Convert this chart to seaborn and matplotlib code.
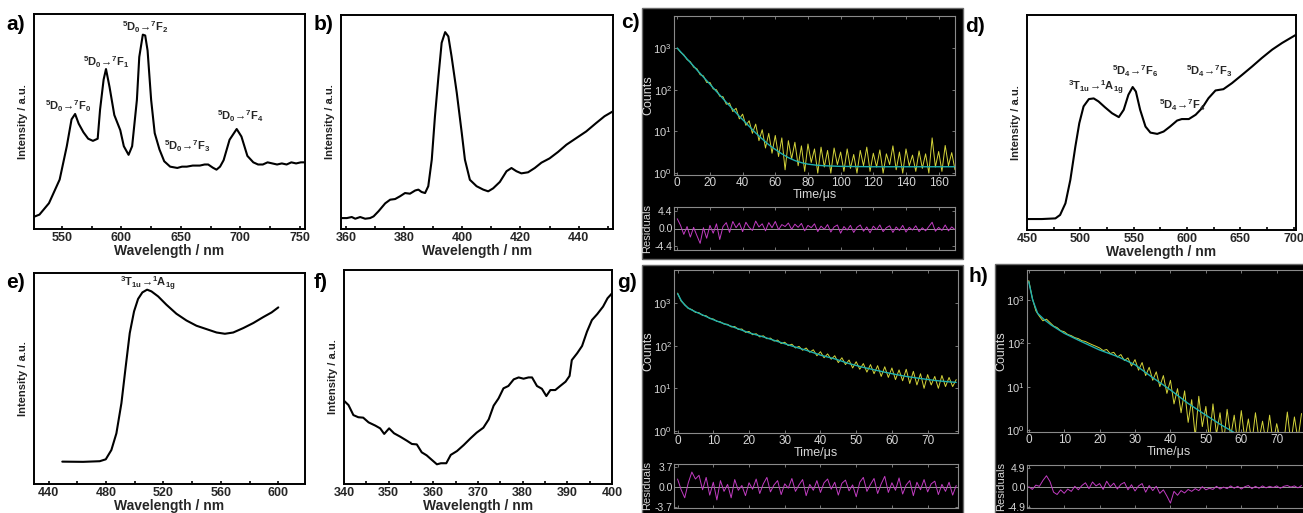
import numpy as np
import pandas as pd
import matplotlib
matplotlib.use("Agg")
import matplotlib.pyplot as plt
import seaborn as sns
from matplotlib.ticker import MultipleLocator, NullLocator
from matplotlib.patches import Rectangle

# ---------------- data ----------------
a_wl = [526, 531, 539, 548, 554, 558, 561, 564, 568, 572, 576, 580, 582, 585, 587, 590, 594, 599, 602, 606,
        609, 613, 615, 618, 620, 622, 625, 628, 632, 636, 641, 647, 651, 655, 660, 666, 670, 673, 677, 680,
        683, 686, 691, 697, 701, 706, 711, 715, 719, 723, 727, 731, 735, 739, 743, 747, 751, 754]
a_int = [0.056, 0.067, 0.12, 0.23, 0.385, 0.51, 0.535, 0.49, 0.45, 0.42, 0.41, 0.42, 0.555, 0.695, 0.744, 0.66, 0.53, 0.46, 0.385, 0.345,
         0.385, 0.60, 0.80, 0.904, 0.90, 0.83, 0.60, 0.446, 0.37, 0.315, 0.29, 0.284, 0.29, 0.29, 0.295, 0.295, 0.30, 0.30, 0.285, 0.276,
         0.29, 0.32, 0.415, 0.465, 0.43, 0.34, 0.31, 0.30, 0.30, 0.31, 0.305, 0.30, 0.305, 0.30, 0.31, 0.305, 0.31, 0.31]

b_wl = [358.3, 360.3, 362, 363.2, 364.9, 366.6, 368.3, 369.5, 371.2, 373.5, 375.2, 376.9, 378.6, 380.3, 382, 383.8, 384.9, 386, 387.2, 388.3,
        389.5, 390.6, 391.8, 392.9, 394.1, 395.2, 396.3, 398.1, 399.8, 400.9, 402.6, 404.9, 407.2, 408.9, 410.6, 412.9, 415.2, 416.9, 418.6, 420.3,
        422.6, 424.9, 427.2, 430, 432.9, 435.8, 439.2, 442.6, 446, 448.9, 451.8]
b_int = [0.051, 0.051, 0.056, 0.048, 0.056, 0.048, 0.051, 0.059, 0.083, 0.12, 0.137, 0.14, 0.153, 0.168, 0.165, 0.18, 0.184, 0.173, 0.168, 0.2,
         0.324, 0.527, 0.713, 0.87, 0.92, 0.9, 0.807, 0.636, 0.45, 0.324, 0.23, 0.2, 0.184, 0.176, 0.19, 0.22, 0.27, 0.285, 0.27, 0.26,
         0.265, 0.285, 0.31, 0.33, 0.36, 0.394, 0.425, 0.456, 0.495, 0.527, 0.55]

d_wl = [450, 464, 476.6, 481, 486, 490.6, 495.3, 499, 503, 508, 512.5, 517, 523, 529.7, 536, 540.6, 545, 549, 552, 556,
        561, 565.6, 572, 578, 584, 590.6, 595, 601.6, 608, 614, 620, 626.6, 634, 642, 651.6, 661, 670, 679.7, 689, 702]
d_int = [0.051, 0.051, 0.054, 0.07, 0.124, 0.233, 0.388, 0.497, 0.575, 0.609, 0.612, 0.598, 0.571, 0.543, 0.525, 0.559, 0.629, 0.665, 0.644, 0.559,
         0.481, 0.453, 0.447, 0.458, 0.481, 0.509, 0.516, 0.516, 0.536, 0.567, 0.613, 0.649, 0.655, 0.683, 0.722, 0.761, 0.8, 0.839, 0.87, 0.908]

e_wl = [449.5, 464, 475.6, 479.8, 483.7, 487.2, 490.7, 493.7, 496.5, 499.5, 502.3, 505.3, 508.6, 511.6, 516.3, 522, 529, 536, 543, 550,
        557, 562.8, 568.6, 575.6, 582.6, 589.5, 595.3, 600]
e_int = [0.106, 0.105, 0.108, 0.117, 0.161, 0.24, 0.383, 0.557, 0.715, 0.818, 0.877, 0.908, 0.921, 0.913, 0.889, 0.85, 0.807, 0.775, 0.75, 0.734,
         0.718, 0.712, 0.718, 0.739, 0.763, 0.791, 0.813, 0.837]

f_wl = [340, 341, 342.1, 343.2, 344.3, 345.5, 347, 348.1, 349, 350.1, 351.2, 352.6, 354.1, 355.2, 356.3, 357.4, 358.5, 359.7, 360.8, 361.7,
        362.9, 363.9, 365.3, 366.8, 368.3, 369.7, 371.2, 372.4, 373.5, 374.6, 375.7, 376.8, 378, 379.1, 380.2, 381.3, 382.1, 383.2, 384.3, 385.3,
        386.2, 387.3, 388.4, 389.6, 390.5, 391, 392.2, 393.3, 394.4, 395.5, 396.7, 398, 399, 400]
f_int = [0.389, 0.369, 0.322, 0.312, 0.31, 0.288, 0.273, 0.26, 0.234, 0.26, 0.237, 0.221, 0.202, 0.187, 0.185, 0.148, 0.134, 0.112, 0.092, 0.097,
         0.097, 0.136, 0.154, 0.182, 0.213, 0.24, 0.263, 0.302, 0.366, 0.4, 0.447, 0.458, 0.489, 0.498, 0.492, 0.498, 0.498, 0.458, 0.445, 0.411,
         0.439, 0.439, 0.458, 0.478, 0.505, 0.579, 0.611, 0.645, 0.712, 0.766, 0.794, 0.829, 0.868, 0.891]

# decay c
c_time = list(range(0, 171, 2))
c_counts = [1000, 800, 690, 530, 470, 350, 320, 230, 215, 150, 150, 105, 100, 70, 68, 45, 48, 30, 36, 20,
            26, 14, 18, 9, 15, 6, 11, 4, 9, 3, 8, 2.5, 7, 1.2, 6, 2.2, 5.5, 1.5, 4.5, 1.1,
            5, 1.8, 3.8, 1.0, 4.2, 1.4, 3.5, 1.0, 4, 1.6, 3.2, 1.1, 3.8, 1.3, 2.8, 1.0, 3.5, 1.5, 4.2, 1.1,
            3, 1.4, 3.6, 1.0, 2.9, 1.6, 4.5, 1.2, 3.2, 1.0, 3.8, 1.5, 2.7, 1.1, 3.4, 1.3, 2.9, 1.0, 7, 1.4,
            3.3, 1.1, 4.6, 1.5, 3.1, 1.2]
c_fit_t = [0, 2, 4, 6, 8, 10, 12, 14, 16, 18, 20, 22, 24, 26, 28, 30, 32, 34, 36, 38, 40, 44, 48, 52, 56, 60, 64, 68, 72, 76,
           80, 85, 90, 100, 120, 140, 170]
c_fit = [1000, 820, 670, 550, 450, 370, 300, 247, 202, 166, 136, 111, 91, 75, 61, 50, 41.5, 34, 28, 23, 19.3, 13.3, 9.2, 6.6, 4.8,
         3.7, 2.9, 2.35, 2.0, 1.78, 1.64, 1.55, 1.5, 1.45, 1.42, 1.42, 1.42]
c_res = [2.5, 0.8, -1.5, 0.5, -2.2, 0.3, -1.8, -3.8, 0.2, -2.5, 0.8, -1.2, 1.2, -2.8, 0.5, 1.5, -1.0, 1.8, 0.2, 1.4,
         -0.8, 1.6, 0.3, -0.5, 1.9, 0.4, 1.2, -0.6, 1.5, 0.2, 1.8, -0.3, 1.0, 0.5, 1.4, -0.2, 1.1, 0.3, 1.3, -0.6,
         0.8, 0.2, 1.2, -0.8, 0.6, -0.2, 1.0, -0.9, 0.4, 0.9, -1.2, 0.5, -0.4, 0.8, -1.0, 0.3, 0.9, -0.7, 0.4, -1.1,
         0.6, -0.3, 0.9, -0.8, 0.2, 0.7, -1.0, 0.4, -0.5, 0.8, -0.9, 0.3, -0.4, 0.7, -0.8, 0.2, -0.6, 0.5, 1.6, -0.7,
         0.3, -0.5, 0.9, -0.6, 0.4, -0.3]

# decay g
g_time = list(range(0, 79))
g_counts = [1700, 1100, 920, 740, 700, 600, 590, 510, 500, 430, 420, 370, 360, 320, 315, 275, 280, 240, 245, 205,
            215, 180, 190, 160, 170, 145, 150, 128, 135, 112, 120, 100, 108, 88, 96, 78, 88, 70, 80, 58,
            72, 52, 64, 48, 58, 40, 52, 36, 46, 30, 42, 28, 38, 24, 36, 22, 34, 19, 32, 18,
            30, 16, 27, 15, 28, 13, 25, 12, 22, 10, 21, 12, 19, 10, 20, 11, 18, 11, 16]
g_fit_t = [0, 1, 2, 3, 4, 5, 6, 8, 10, 12, 14, 16, 18, 20, 24, 28, 32, 36, 40, 44, 48, 52, 56, 60, 64, 68, 72, 76, 78]
g_fit = [1650, 1150, 890, 760, 680, 620, 570, 480, 405, 350, 305, 265, 230, 200, 160, 125, 98, 78, 60, 49,
         38, 31, 26, 22, 19, 17, 15.3, 14.2, 13.8]
g_res = [1.5, -0.5, -2.0, 0.8, 2.8, 1.5, 2.2, -0.5, 1.8, -1.5, 0.9, -2.4, 1.2, -0.8, 0.5, -2.0, 1.4, -0.6, 0.3, -1.6,
         0.8, -0.4, 1.5, -1.2, 0.6, 1.8, -0.9, 0.4, 1.2, -1.4, 0.6, -0.2, 1.6, -0.8, 0.4, 1.4, -1.6, 0.5, -0.6, 1.2,
         -1.0, 0.8, 1.5, -0.4, 0.9, -1.5, 0.7, 1.3, -0.7, 0.4, -1.8, 0.9, 1.8, -0.8, 0.5, 1.6, -1.2, 0.6, 2.0, -1.0,
         0.8, -0.6, 1.7, -1.3, 0.4, 1.2, -1.6, 0.9, -0.5, 1.4, -0.9, 0.6, 1.1, -1.4, 0.5, -0.8, 0.9, -1.5, 0.3]

# decay h
h_time = list(range(0, 78))
h_counts = [2800, 1100, 560, 420, 330, 360, 300, 250, 230, 195, 185, 160, 150, 135, 128, 115, 110, 100, 92, 85,
            78, 68, 72, 58, 62, 48, 55, 40, 46, 30, 42, 24, 36, 18, 28, 14, 22, 10, 18, 7,
            14, 4, 9, 2.5, 8, 1.5, 5, 0.7, 6, 1.2, 3.5, 0.6, 4, 0.8, 2.5, 0.5, 3, 0.7, 2.2, 0.5,
            2.8, 0.6, 1.8, 0.5, 2.5, 0.6, 1.6, 0.5, 2.2, 0.5, 1.4, 0.6, 0.5, 2.6, 0.5, 2.0, 0.6, 2.4]
h_fit_t = [0, 1.1, 2.5, 4.4, 6.3, 10, 14.8, 20, 25.2, 30, 34.6, 40, 45, 50, 54.4, 56.8, 60, 65]
h_fit = [2630, 1000, 490, 350, 265, 170, 110, 70, 49, 32, 17, 8.4, 4.1, 2.2, 1.3, 1.0, 0.7, 0.4]
h_res = [0.2, -0.5, 0.6, 0.3, 1.8, 3.0, 1.5, -1.2, -1.8, -0.6, -1.5, -0.4, -1.0, 0.3, -0.6, 0.5, 1.2, -0.3, 1.4, 0.4,
         1.0, -0.5, 1.6, 0.2, 1.1, -0.4, 0.8, 1.3, -0.6, 0.7, -0.9, 0.4, 1.0, -1.2, 0.5, -0.8, 0.3, -1.5, -0.6, -2.2,
         -4.0, -1.0, -2.0, -0.8, -1.4, -0.5, -1.0, -0.3, -0.8, 0.2, -0.6, -0.2, -0.5, 0.3, -0.4, 0.1, -0.3, 0.4, -0.2, 0.3,
         -0.4, 0.2, 0.5, -0.3, 0.3, -0.2, 0.4, -0.1, 0.3, 0.0, 0.4, -0.2, 0.3, 0.5, 0.1, 0.4, -0.1, 0.5]

a_labels = ["$^{5}$D$_{0}$\u2192$^{7}$F$_{0}$", "$^{5}$D$_{0}$\u2192$^{7}$F$_{1}$", "$^{5}$D$_{0}$\u2192$^{7}$F$_{2}$",
            "$^{5}$D$_{0}$\u2192$^{7}$F$_{3}$", "$^{5}$D$_{0}$\u2192$^{7}$F$_{4}$"]
a_lab_x = [555, 587, 620, 655, 700]
a_lab_y = [0.57, 0.775, 0.94, 0.385, 0.525]
d_labels = ["$^{3}$T$_{1u}$\u2192$^{1}$A$_{1g}$", "$^{5}$D$_{4}$\u2192$^{7}$F$_{6}$",
            "$^{5}$D$_{4}$\u2192$^{7}$F$_{4}$", "$^{5}$D$_{4}$\u2192$^{7}$F$_{3}$"]
d_lab_x = [514, 551, 595, 621]
d_lab_y = [0.66, 0.738, 0.582, 0.738]
e_labels = ["$^{3}$T$_{1u}$\u2192$^{1}$A$_{1g}$"]
e_lab_x = [509]
e_lab_y = [0.949]

# ---------------- style ----------------
sns.set_theme(style="white")
plt.rcParams.update({
    "font.family": ["Liberation Sans", "DejaVu Sans"],
    "font.weight": "bold",
    "axes.labelweight": "bold",
    "mathtext.fontset": "custom",
    "mathtext.rm": "Liberation Sans:bold",
    "mathtext.it": "Liberation Sans:bold",
    "mathtext.bf": "Liberation Sans:bold",
    "mathtext.sf": "Liberation Sans:weight=normal",
    "mathtext.default": "rm",
})

W, H = 1303, 513
YEL = "#d4d43a"
CYAN = "#1fb0b0"
MAG = "#c23cc2"
TXT = "#d6d6d6"
GRID = "#8a8a8a"


def rect(l, t, r, b):
    return [l / W, 1 - b / H, (r - l) / W, (b - t) / H]


fig = plt.figure(figsize=(W / 100, H / 100), dpi=100)

# black backgrounds of the decay panels
for (l, t, r, b) in [(642, 8, 963, 259), (642, 265, 963, 525), (995, 264, 1320, 525)]:
    fig.add_artist(Rectangle((l / W, 1 - b / H), (r - l) / W, (b - t) / H, transform=fig.transFigure,
                             facecolor="black", edgecolor="#6a6a6a", lw=1.0, zorder=0))


def white_panel(pos, wl, inten, xlim, major, minor):
    ax = fig.add_axes(rect(*pos))
    sns.lineplot(x=wl, y=inten, ax=ax, color="black", lw=1.5, estimator=None)
    ax.set_xlim(*xlim)
    ax.set_ylim(0, 1)
    ax.set_yticks([])
    ax.xaxis.set_major_locator(MultipleLocator(major))
    ax.xaxis.set_minor_locator(MultipleLocator(minor))
    ax.tick_params(axis="x", which="both", direction="in", bottom=True, top=False, length=2.5,
                   width=1.2, color="black", pad=2, labelsize=9)
    ax.set_xlabel("Wavelength / nm", fontsize=10, labelpad=0)
    ax.set_ylabel("Intensity / a.u.", fontsize=8, labelpad=4, color="#222222")
    for s in ax.spines.values():
        s.set_color("black")
        s.set_linewidth(1.4)
    return ax


def dark_panel(main_pos, res_pos, t, cnt, ft, fc, res, xlim, ylim, xticks, rlim, rv, lab_x):
    axm = fig.add_axes(rect(*main_pos))
    axr = fig.add_axes(rect(*res_pos))
    sns.lineplot(x=t, y=cnt, ax=axm, color=YEL, lw=0.7, estimator=None)
    sns.lineplot(x=ft, y=fc, ax=axm, color=CYAN, lw=1.0, estimator=None)
    sns.lineplot(x=t, y=res, ax=axr, color=MAG, lw=0.7, estimator=None)
    axr.axhline(0, color="#9a9a9a", lw=0.7, zorder=0)
    axm.set_yscale("log")
    axm.set_ylim(*ylim)
    axm.yaxis.set_minor_locator(NullLocator())
    axm.set_yticks([1, 10, 100, 1000])
    axm.set_yticklabels([r"$\mathsf{10^{0}}$", r"$\mathsf{10^{1}}$", r"$\mathsf{10^{2}}$", r"$\mathsf{10^{3}}$"],
                        fontweight="normal")
    for ax in (axm, axr):
        ax.set_facecolor("black")
        ax.set_xlim(*xlim)
        ax.set_xticks(xticks)
        for s in ax.spines.values():
            s.set_color(GRID)
            s.set_linewidth(0.8)
        ax.tick_params(which="both", direction="in", left=True, bottom=True, top=True, right=True,
                       color=GRID, length=2, width=0.6, labelcolor=TXT, labelsize=8.5, pad=1.5)
    axm.tick_params(axis="y", labelsize=8)
    axr.tick_params(axis="y", labelsize=7.5, pad=1)
    axm.set_xticklabels([str(v) for v in xticks], fontweight="normal")
    axr.set_xticklabels([])
    axr.set_ylim(*rlim)
    axr.set_yticks([-rv, 0, rv])
    axr.set_yticklabels([f"-{rv:.1f}", "0.0", f"{rv:.1f}"], fontweight="normal")
    axm.set_xlabel("Time/\u03bcs", color=TXT, fontsize=9, fontweight="normal", labelpad=0)
    axm.set_ylabel("Counts", color=TXT, fontsize=9, fontweight="normal")
    axr.set_ylabel("Residuals", color=TXT, fontsize=8, fontweight="normal")
    wm = main_pos[2] - main_pos[0]
    axm.yaxis.set_label_coords((lab_x[0] - main_pos[0]) / wm, 0.5)
    axr.yaxis.set_label_coords((lab_x[1] - main_pos[0]) / wm, 0.5)
    return axm, axr


# a
ax = white_panel((34, 14, 305, 229), a_wl, a_int, (526.4, 754.5), 50, 25)
for s, x, y in zip(a_labels, a_lab_x, a_lab_y):
    ax.text(x, y, s, ha="center", va="center", fontsize=8)
# b
white_panel((341, 15, 613, 229), b_wl, b_int, (358.3, 451.8), 20, 10)
# d
ax = white_panel((1027, 15, 1296, 230), d_wl, d_int, (450, 702), 50, 25)
for s, x, y in zip(d_labels, d_lab_x, d_lab_y):
    ax.text(x, y, s, ha="center", va="center", fontsize=8)
# e
ax = white_panel((34, 273, 305, 484), e_wl, e_int, (429.8, 618.6), 40, 20)
for s, x, y in zip(e_labels, e_lab_x, e_lab_y):
    ax.text(x, y, s, ha="center", va="center", fontsize=8)
# f
white_panel((344, 270, 612, 484), f_wl, f_int, (340, 400), 10, 5)

# c, g, h
dark_panel((674, 16, 955, 175), (674, 207, 955, 250), c_time, c_counts, c_fit_t, c_fit, c_res,
           (-2, 170), (0.9, 5900), list(range(0, 161, 20)), (-5.5, 5.5), 4.4, (654, 652))
dark_panel((674, 270, 958, 433), (674, 464, 958, 508), g_time, g_counts, g_fit_t, g_fit, g_res,
           (-1, 78.5), (0.9, 5900), list(range(0, 71, 10)), (-3.9, 4.3), 3.7, (654, 652))
dark_panel((1027, 270, 1310, 432), (1027, 465, 1310, 508), h_time, h_counts, h_fit_t, h_fit, h_res,
           (-0.5, 79.4), (0.9, 4900), list(range(0, 71, 10)), (-5.25, 5.75), 4.9, (1007, 1006))

# panel letters
for s, x, y in [("a)", 6, 24), ("b)", 314, 24), ("c)", 621, 23), ("d)", 965, 27),
                ("e)", 6, 283), ("f)", 314, 283), ("g)", 617, 282), ("h)", 969, 277)]:
    fig.text(x / W, 1 - y / H, s, ha="left", va="center", fontsize=15, fontweight="bold", color="black")

fig.savefig("out.png", dpi=100, facecolor="white")
